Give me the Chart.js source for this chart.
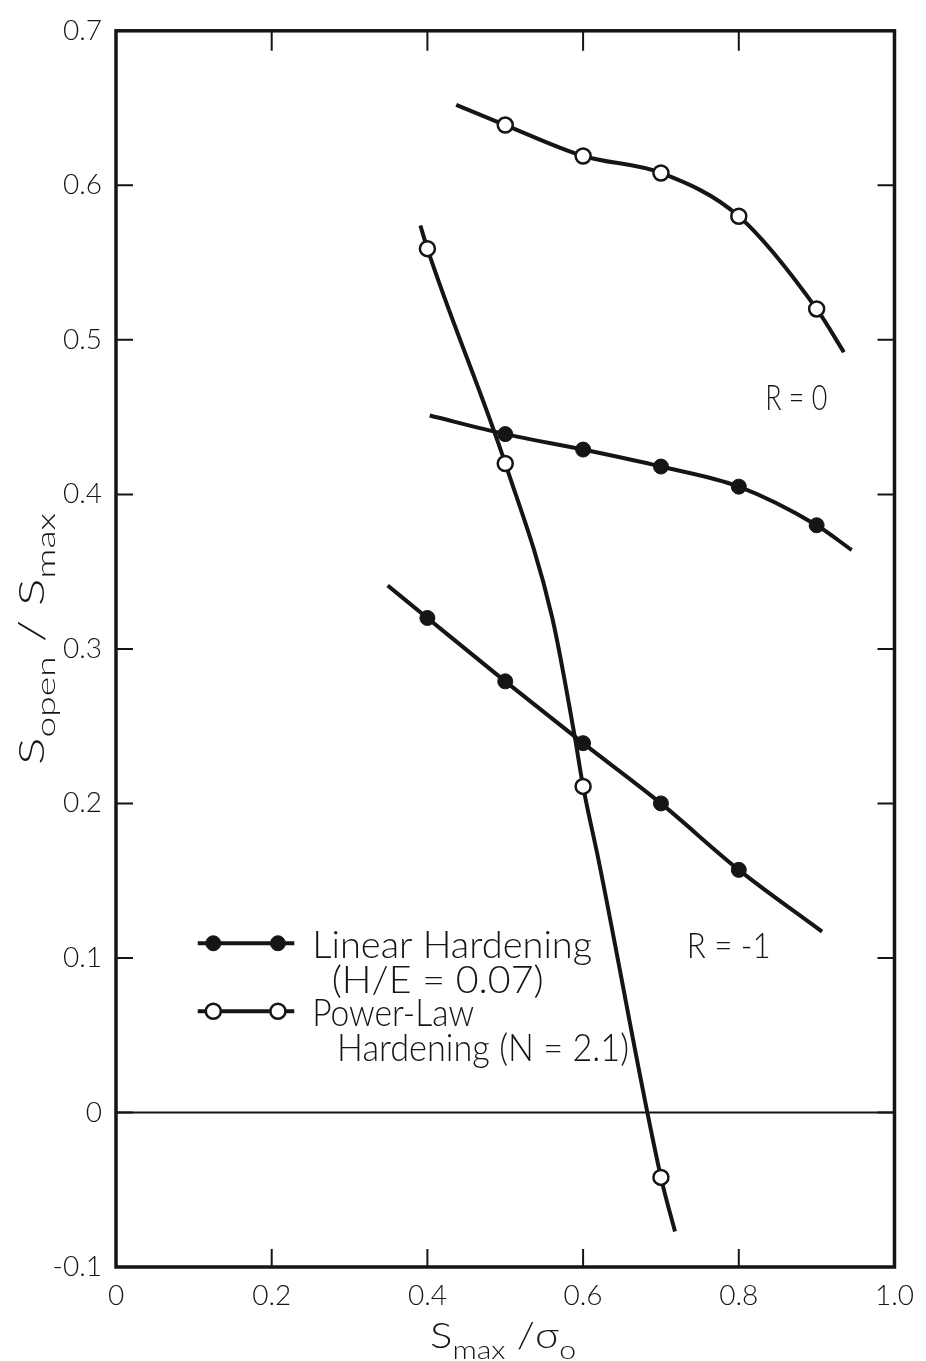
<!DOCTYPE html>
<html>
<head>
<meta charset="utf-8">
<script src="https://cdn.jsdelivr.net/npm/chart.js@4.4.1/dist/chart.umd.min.js"></script>
<style>
  html, body { margin: 0; padding: 0; background: #fff; }
  #wrap { width: 926px; height: 1361px; position: relative; }
</style>
</head>
<body>
<div id="wrap"><canvas id="crackChart"></canvas></div>
<script>
// axis ticks
const xTickValues = [0, 0.2, 0.4, 0.6, 0.8, 1.0];
const xTickLabels = ['0', '0.2', '0.4', '0.6', '0.8', '1.0'];
const yTickValues = [-0.1, 0, 0.1, 0.2, 0.3, 0.4, 0.5, 0.6, 0.7];
const yTickLabels = ['-0.1', '0', '0.1', '0.2', '0.3', '0.4', '0.5', '0.6', '0.7'];

// power-law hardening, R = 0 (curve points; marked = computed result)
const powerR0X = [0.437, 0.50, 0.60, 0.70, 0.80, 0.90, 0.935];
const powerR0Y = [0.652, 0.639, 0.619, 0.608, 0.580, 0.520, 0.492];
const powerR0Marked = [false, true, true, true, true, true, false];

// linear hardening, R = 0
const linearR0X = [0.403, 0.50, 0.60, 0.70, 0.80, 0.90, 0.945];
const linearR0Y = [0.451, 0.439, 0.429, 0.418, 0.405, 0.380, 0.364];
const linearR0Marked = [false, true, true, true, true, true, false];

// linear hardening, R = -1
const linearRm1X = [0.349, 0.40, 0.50, 0.60, 0.70, 0.80, 0.907];
const linearRm1Y = [0.341, 0.320, 0.279, 0.239, 0.200, 0.157, 0.117];
const linearRm1Marked = [false, true, true, true, true, true, false];

// power-law hardening, R = -1
const powerRm1X = [0.391, 0.40, 0.50, 0.560, 0.589, 0.60, 0.62, 0.70, 0.718];
const powerRm1Y = [0.574, 0.559, 0.420, 0.321, 0.244, 0.211, 0.163, -0.042, -0.077];
const powerRm1Marked = [false, true, true, false, false, true, false, true, false];

const INK = '#151515';
const FONT = 'Lato, "DejaVu Sans", sans-serif';
const WEIGHT = '300';

function toPoints(xs, ys) {
    return xs.map((x, i) => ({ x: x, y: ys[i] }));
}

function curve(label, xs, ys, marked, filled) {
    return {
        label: label,
        data: toPoints(xs, ys),
        borderColor: INK,
        borderWidth: 4,
        cubicInterpolationMode: 'monotone',
        pointRadius: marked.map(m => (m ? 7.5 : 0)),
        pointBackgroundColor: filled ? INK : '#fff',
        pointBorderColor: INK,
        pointBorderWidth: filled ? 1 : 2.5,
        pointHoverRadius: 0,
        fill: false
    };
}

// frame, inside ticks and the zero line
const framePlugin = {
    id: 'frame',
    beforeDatasetsDraw(chart) {
        const { ctx, chartArea: a, scales: { x, y } } = chart;
        ctx.save();
        ctx.strokeStyle = INK;
        ctx.lineWidth = 2;
        const y0 = y.getPixelForValue(0);
        ctx.beginPath();
        ctx.moveTo(a.left, y0);
        ctx.lineTo(a.right, y0);
        ctx.stroke();

        xTickValues.slice(1, -1).forEach(v => {
            const px = x.getPixelForValue(v);
            ctx.beginPath();
            ctx.moveTo(px, a.bottom);
            ctx.lineTo(px, a.bottom - 18);
            ctx.moveTo(px, a.top);
            ctx.lineTo(px, a.top + 20);
            ctx.stroke();
        });
        yTickValues.slice(1, -1).forEach(v => {
            const py = y.getPixelForValue(v);
            ctx.beginPath();
            ctx.moveTo(a.left, py);
            ctx.lineTo(a.left + 17, py);
            ctx.moveTo(a.right, py);
            ctx.lineTo(a.right - 17, py);
            ctx.stroke();
        });

        ctx.lineWidth = 3.5;
        ctx.strokeRect(a.left, a.top, a.right - a.left, a.bottom - a.top);
        ctx.restore();
    }
};

function fontFor(size) {
    return WEIGHT + ' ' + size + 'px ' + FONT;
}

// width of a run of [text, isSubscript] pieces
function runsWidth(ctx, runs, size, subSize) {
    return runs.reduce((w, [txt, sub]) => {
        ctx.font = fontFor(sub ? subSize : size);
        return w + ctx.measureText(txt).width;
    }, 0);
}

// draws the runs so that they span exactly `width` px from x0
function drawRuns(ctx, runs, x0, baseline, size, subSize, width) {
    const natural = runsWidth(ctx, runs, size, subSize);
    ctx.save();
    ctx.translate(x0, baseline);
    ctx.scale(width / natural, 1);
    let cx = 0;
    runs.forEach(([txt, sub]) => {
        ctx.font = fontFor(sub ? subSize : size);
        ctx.fillText(txt, cx, sub ? size * 0.3 : 0);
        cx += ctx.measureText(txt).width;
    });
    ctx.restore();
}

function fitText(ctx, txt, x0, baseline, size, width) {
    drawRuns(ctx, [[txt, false]], x0, baseline, size, size, width);
}

const xTitleRuns = [['S', false], ['max', true], [' /', false], ['σ', false], ['o', true]];
const yTitleRuns = [['S', false], ['open', true], [' / ', false], ['S', false], ['max', true]];

const notesPlugin = {
    id: 'notes',
    afterDatasetsDraw(chart) {
        const { ctx, scales: { x, y } } = chart;
        ctx.save();
        ctx.fillStyle = INK;
        ctx.textBaseline = 'alphabetic';
        ctx.textAlign = 'left';

        // axis titles
        drawRuns(ctx, xTitleRuns, 430, 1348, 36, 26, 146);
        ctx.save();
        ctx.translate(44, 765);
        ctx.rotate(-Math.PI / 2);
        drawRuns(ctx, yTitleRuns, 0, 0, 36, 26, 252);
        ctx.restore();

        // curve family labels
        fitText(ctx, 'R = 0', x.getPixelForValue(0.834), y.getPixelForValue(0.4545), 36, 62);
        fitText(ctx, 'R = -1', x.getPixelForValue(0.733), y.getPixelForValue(0.1), 35, 84);

        // legend
        const legendRows = [
            { yv: 0.1095, filled: true, lines: [['Linear Hardening', 0.252, 280], ['(H/E = 0.07)', 0.277, 212]] },
            { yv: 0.0655, filled: false, lines: [['Power-Law', 0.252, 162], ['Hardening (N = 2.1)', 0.284, 292]] }
        ];
        const lx0 = x.getPixelForValue(0.105);
        const lx1 = x.getPixelForValue(0.229);
        const m0 = x.getPixelForValue(0.125);
        const m1 = x.getPixelForValue(0.208);
        legendRows.forEach(row => {
            const py = y.getPixelForValue(row.yv);
            ctx.strokeStyle = INK;
            ctx.lineWidth = 4;
            ctx.beginPath();
            ctx.moveTo(lx0, py);
            ctx.lineTo(lx1, py);
            ctx.stroke();
            [m0, m1].forEach(mx => {
                ctx.beginPath();
                ctx.arc(mx, py, 7.5, 0, Math.PI * 2);
                ctx.fillStyle = row.filled ? INK : '#fff';
                ctx.fill();
                ctx.lineWidth = row.filled ? 1 : 2.5;
                ctx.stroke();
            });
            ctx.fillStyle = INK;
            const [first, second] = row.lines;
            fitText(ctx, first[0], x.getPixelForValue(first[1]), py + 15, 37, first[2]);
            fitText(ctx, second[0], x.getPixelForValue(second[1]), py + 50, 37, second[2]);
        });
        ctx.restore();
    }
};

function tickText(values, labels, v) {
    const i = values.findIndex(t => Math.abs(t - v) < 1e-6);
    return i >= 0 ? labels[i] : '';
}

document.addEventListener('DOMContentLoaded', function() {
    const ctx = document.getElementById('crackChart').getContext('2d');
    new Chart(ctx, {
        type: 'line',
        data: {
            datasets: [
                curve('Power-Law R=0', powerR0X, powerR0Y, powerR0Marked, false),
                curve('Linear R=0', linearR0X, linearR0Y, linearR0Marked, true),
                curve('Linear R=-1', linearRm1X, linearRm1Y, linearRm1Marked, true),
                curve('Power-Law R=-1', powerRm1X, powerRm1Y, powerRm1Marked, false)
            ]
        },
        options: {
            responsive: true,
            maintainAspectRatio: false,
            animation: false,
            events: [],
            layout: { padding: { top: 22, right: 29, left: 0, bottom: 0 } },
            plugins: {
                legend: { display: false },
                tooltip: { enabled: false }
            },
            scales: {
                x: {
                    type: 'linear',
                    min: 0,
                    max: 1,
                    afterFit: s => { s.height = 94; },
                    afterBuildTicks: s => { s.ticks = xTickValues.map(v => ({ value: v })); },
                    grid: { display: false, drawTicks: false },
                    border: { display: false },
                    ticks: {
                        padding: 12,
                        color: INK,
                        font: { family: FONT, size: 28, weight: WEIGHT },
                        maxRotation: 0,
                        callback: v => tickText(xTickValues, xTickLabels, v)
                    }
                },
                y: {
                    type: 'linear',
                    min: -0.1,
                    max: 0.7,
                    afterFit: s => { s.width = 116; },
                    afterBuildTicks: s => { s.ticks = yTickValues.map(v => ({ value: v })); },
                    grid: { display: false, drawTicks: false },
                    border: { display: false },
                    ticks: {
                        padding: 14,
                        color: INK,
                        font: { family: FONT, size: 28, weight: WEIGHT },
                        callback: v => tickText(yTickValues, yTickLabels, v)
                    }
                }
            }
        },
        plugins: [framePlugin, notesPlugin]
    });
});
</script>
</body>
</html>
